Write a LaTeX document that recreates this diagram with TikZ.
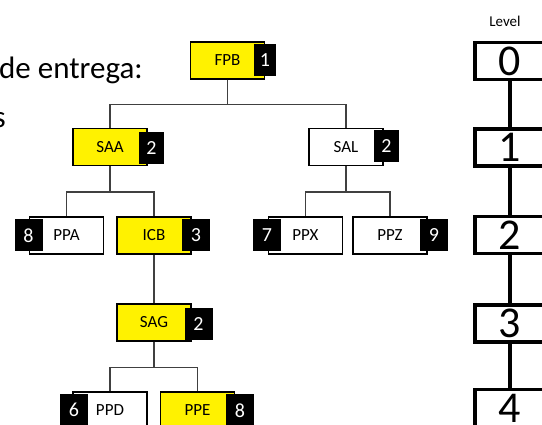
\documentclass[tikz,border=0pt]{standalone}
\usepackage{fontspec}
\setmainfont{Carlito}
\begin{document}
\begin{tikzpicture}[x=1pt,y=-1pt,
 box/.style={draw=black,line width=1.1pt,minimum width=74pt,minimum height=37pt,inner sep=0pt,font=\fontsize{17}{17}\selectfont},
 ybox/.style={box,fill=yellow},
 wbox/.style={box,fill=white},
 tag/.style={fill=black,text=white,minimum width=28pt,minimum height=32pt,inner sep=0pt,font=\fontsize{20}{20}\selectfont},
 link/.style={draw=black!75,line width=1.1pt},
 lvl/.style={draw=black,line width=3.5pt,fill=white,minimum width=70pt,minimum height=37pt,inner sep=0pt,font=\fontsize{44}{44}\selectfont},
 bigtext/.style={inner sep=0pt,font=\fontsize{31}{31}\selectfont}
]
\useasboundingbox (0,0) rectangle (542,425);

% partial title texts
\node[bigtext,anchor=base west] (t1) at (-1,79) {de entrega:};
\node[bigtext,anchor=base east] (t2) at (6,128) {s};

% tree boxes
\node[ybox] (FPB) at (227.5,60.5) {FPB};
\node[tag,minimum width=22pt] (tFPB) at (265,60.5) {1};
\node[ybox] (SAA) at (110,147) {SAA};
\node[tag,minimum width=25pt] (tSAA) at (151.5,148) {2};
\node[wbox] (SAL) at (346,147) {SAL};
\node[tag,minimum width=25pt] (tSAL) at (386.5,146.5) {2};
\node[wbox] (PPA) at (66.5,235.5) {PPA};
\node[tag] (tPPA) at (28.5,235.5) {8};
\node[ybox] (ICB) at (154,235.5) {ICB};
\node[tag] (tICB) at (196,235.5) {3};
\node[wbox] (PPX) at (305.5,235.5) {PPX};
\node[tag] (tPPX) at (267,235.5) {7};
\node[wbox] (PPZ) at (390,235.5) {PPZ};
\node[tag] (tPPZ) at (434,235.5) {9};
\node[ybox] (SAG) at (154,322.5) {SAG};
\node[tag] (tSAG) at (198.5,324) {2};
\node[wbox] (PPD) at (110,410.5) {PPD};
\node[tag] (tPPD) at (74,410) {6};
\node[ybox] (PPE) at (197.5,410.5) {PPE};
\node[tag] (tPPE) at (240,410.5) {8};

% connectors
\draw[link] (FPB.south) -- ++(0,25) -| (SAA.north);
\draw[link] (FPB.south) -- ++(0,25) -| (SAL.north);
\draw[link] (SAA.south) -- ++(0,26) -| (PPA.north);
\draw[link] (SAA.south) -- ++(0,26) -| (ICB.north);
\draw[link] (SAL.south) -- ++(0,26) -| (PPX.north);
\draw[link] (SAL.south) -- ++(0,26) -| (PPZ.north);
\draw[link] (ICB.south) -- (SAG.north);
\draw[link] (SAG.south) -- ++(0,26) -| (PPD.north);
\draw[link] (SAG.south) -- ++(0,26) -| (PPE.north);

% level scale
\node[inner sep=0pt,font=\fontsize{15}{15}\selectfont] (lvltitle) at (505,21) {Level};
\node[lvl] (L0) at (510,61) {0};
\node[lvl] (L1) at (510,147.5) {1};
\node[lvl] (L2) at (510,235) {2};
\node[lvl] (L3) at (510,323.5) {3};
\node[lvl] (L4) at (510,408) {4};
\draw[line width=3.5pt] (L0.south) -- (L1.north);
\draw[line width=3.5pt] (L1.south) -- (L2.north);
\draw[line width=3.5pt] (L2.south) -- (L3.north);
\draw[line width=3.5pt] (L3.south) -- (L4.north);
\end{tikzpicture}
\end{document}
